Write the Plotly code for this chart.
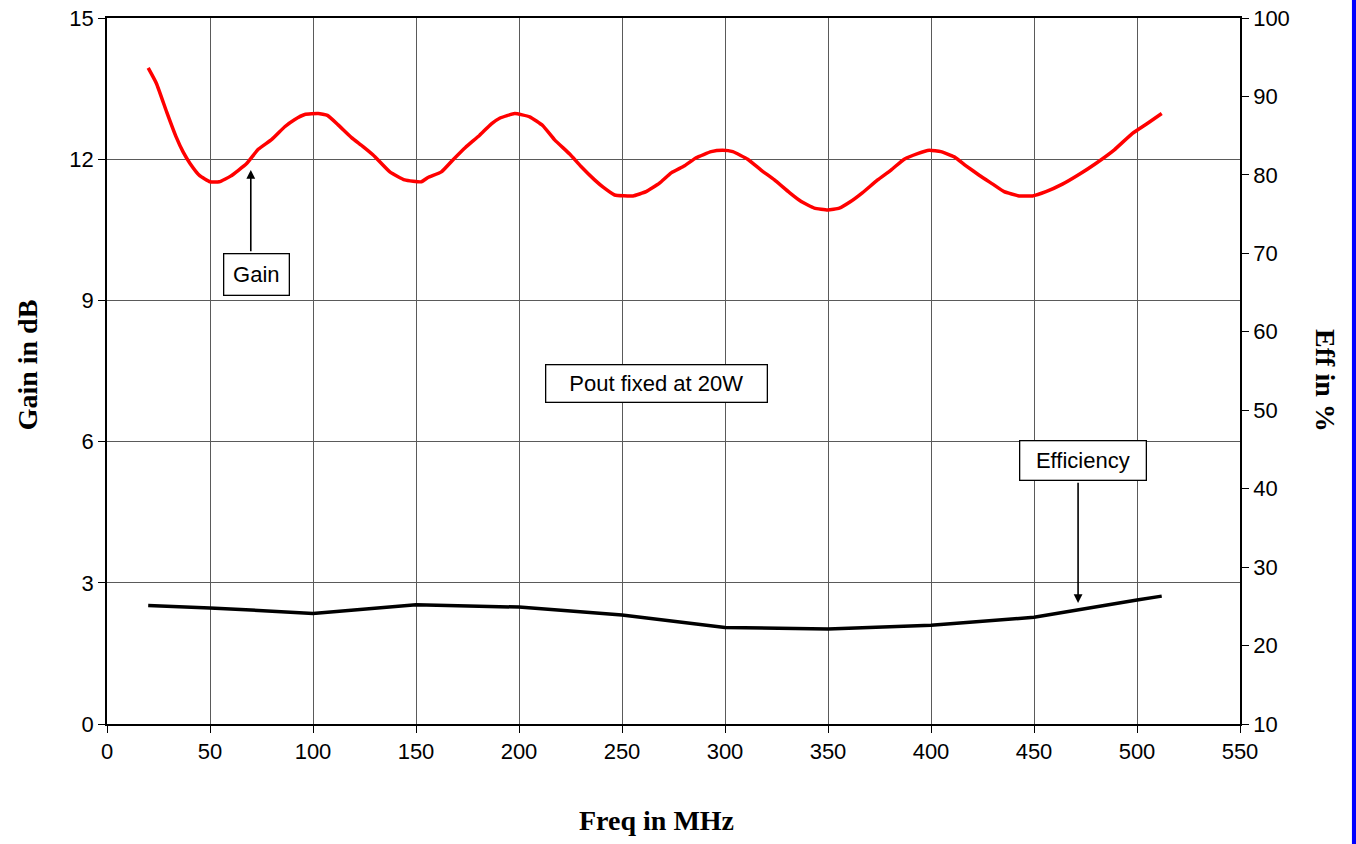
import plotly.graph_objects as go

# Gain curve (left axis, dB)
gain_freq = [20, 24, 29, 33.5, 37, 40.3, 45, 50, 54.5, 60, 67.8, 73.4, 80, 86.3, 91, 96,
             102.5, 107, 112.2, 118.7, 124, 129.2, 137.3, 144.5, 152.6, 155.8, 162.3, 168,
             174, 180.9, 186.6, 190.6, 197.9, 205.2, 211.6, 217.3, 224.6, 230, 236.7, 241,
             246.4, 255.3, 261.7, 268.2, 273.9, 280.4, 286, 293.3, 298.9, 303.8, 311, 317.5,
             324, 331.3, 337, 343.4, 349.9, 355.5, 361, 366.8, 374.1, 380.6, 387, 393.5,
             399.2, 404.8, 411.3, 417, 423.4, 430, 435.5, 442.8, 449.3, 455.8, 463.8, 472,
             480, 489, 497.8, 505, 512]
gain_db = [13.94, 13.61, 13.0, 12.48, 12.15, 11.91, 11.65, 11.52, 11.52, 11.64, 11.91, 12.21,
           12.42, 12.69, 12.84, 12.95, 12.97, 12.93, 12.73, 12.46, 12.28, 12.09, 11.73, 11.56,
           11.52, 11.61, 11.73, 11.99, 12.25, 12.51, 12.75, 12.87, 12.97, 12.90, 12.71, 12.41,
           12.11, 11.85, 11.56, 11.4, 11.24, 11.22, 11.31, 11.49, 11.71, 11.86, 12.03, 12.16,
           12.19, 12.16, 12.0, 11.77, 11.56, 11.29, 11.1, 10.96, 10.92, 10.96, 11.1, 11.29,
           11.56, 11.77, 12.0, 12.12, 12.19, 12.16, 12.05, 11.86, 11.66, 11.47, 11.31, 11.22,
           11.22, 11.31, 11.47, 11.68, 11.91, 12.2, 12.55, 12.76, 12.97]

# Efficiency curve (right axis, %)
eff_freq = [20, 50, 100, 150, 200, 250, 300, 350, 400, 450, 500, 512]
eff_pct = [25.1, 24.8, 24.1, 25.2, 24.9, 23.9, 22.3, 22.1, 22.6, 23.6, 25.8, 26.3]

x_ticks = [0, 50, 100, 150, 200, 250, 300, 350, 400, 450, 500, 550]
y_ticks = [0, 3, 6, 9, 12, 15]
y2_ticks = [10, 20, 30, 40, 50, 60, 70, 80, 90, 100]

TICK_FONT = dict(family="Liberation Sans, Arial, sans-serif", size=22, color="black")
TITLE_FONT = dict(family="Liberation Serif, Times New Roman, serif", size=28, color="black")
BOX_FONT = dict(family="Liberation Sans, Arial, sans-serif", size=22, color="black")

fig = go.Figure()
fig.add_trace(go.Scatter(x=gain_freq, y=gain_db, mode="lines",
                         line=dict(color="#ff0000", width=3.5, shape="spline", smoothing=0.4),
                         showlegend=False, yaxis="y"))
fig.add_trace(go.Scatter(x=eff_freq, y=eff_pct, mode="lines",
                         line=dict(color="black", width=3.5),
                         showlegend=False, yaxis="y2"))

fig.update_layout(
    width=1356, height=844,
    margin=dict(l=107, r=116, t=18, b=120, autoexpand=False),
    paper_bgcolor="white", plot_bgcolor="white",
    xaxis=dict(range=[0, 550], tickvals=x_ticks, showgrid=True, gridcolor="#5a5a5a", gridwidth=1,
               showline=True, linecolor="black", linewidth=1.5, ticks="outside", ticklen=7,
               tickcolor="black", tickfont=TICK_FONT, zeroline=False, automargin=False,
               mirror=True, ticklabeloverflow="allow"),
    yaxis=dict(range=[0, 15], tickvals=y_ticks, showgrid=True, gridcolor="#5a5a5a", gridwidth=1,
               showline=True, linecolor="black", linewidth=1.5, ticks="outside", ticklen=7,
               tickcolor="black", tickfont=TICK_FONT, zeroline=False, automargin=False,
               ticklabeloverflow="allow"),
    yaxis2=dict(range=[10, 100], tickvals=y2_ticks, overlaying="y", side="right",
                showgrid=False, showline=True, linecolor="black", linewidth=1.5,
                ticks="outside", ticklen=7, tickcolor="black", tickfont=TICK_FONT,
                zeroline=False, automargin=False, ticklabeloverflow="allow"),
)

annotations = [
    # axis titles
    dict(text="<b>Freq in MHz</b>", xref="paper", yref="paper", x=0.485, y=-0.137,
         showarrow=False, font=TITLE_FONT, xanchor="center", yanchor="middle"),
    dict(text="<b>Gain in dB</b>", xref="paper", yref="paper", x=-0.0706, y=0.508,
         showarrow=False, font=TITLE_FONT, textangle=-90, xanchor="center", yanchor="middle"),
    dict(text="<b>Eff in %</b>", xref="paper", yref="paper", x=1.076, y=0.487,
         showarrow=False, font=TITLE_FONT, textangle=90, xanchor="center", yanchor="middle"),
    # text boxes
    dict(text="Gain", x=72.8, y=9.54, xref="x", yref="y", showarrow=False, font=BOX_FONT,
         bgcolor="white", bordercolor="black", borderwidth=1.3, width=62, height=38,
         xanchor="center", yanchor="middle"),
    dict(text="Pout fixed at 20W", x=266.8, y=7.24, xref="x", yref="y", showarrow=False,
         font=BOX_FONT, bgcolor="white", bordercolor="black", borderwidth=1.3, width=218, height=34,
         xanchor="center", yanchor="middle"),
    dict(text="Efficiency", x=474.0, y=5.59, xref="x", yref="y", showarrow=False, font=BOX_FONT,
         bgcolor="white", bordercolor="black", borderwidth=1.3, width=123, height=36,
         xanchor="center", yanchor="middle"),
    # arrows
    dict(text="", x=69.8, y=11.77, ax=69.8, ay=10.01, xref="x", yref="y", axref="x", ayref="y",
         showarrow=True, arrowhead=2, arrowsize=1.1, arrowwidth=1.6, arrowcolor="black", standoff=0),
    dict(text="", x=471.4, y=2.57, ax=471.4, ay=5.16, xref="x", yref="y", axref="x", ayref="y",
         showarrow=True, arrowhead=2, arrowsize=1.1, arrowwidth=1.6, arrowcolor="black", standoff=0),
]
fig.update_layout(annotations=annotations)

# blue bar at the right edge of the image
fig.add_shape(type="rect", xref="paper", yref="paper", x0=1.0988, x1=1.11, y0=-0.2, y1=1.05,
              fillcolor="#0000ff", line=dict(width=0), layer="above")

fig.write_html("out.html",
               config={"displayModeBar": False},
               post_script="document.body.style.margin='0';document.body.style.overflow='hidden';")
